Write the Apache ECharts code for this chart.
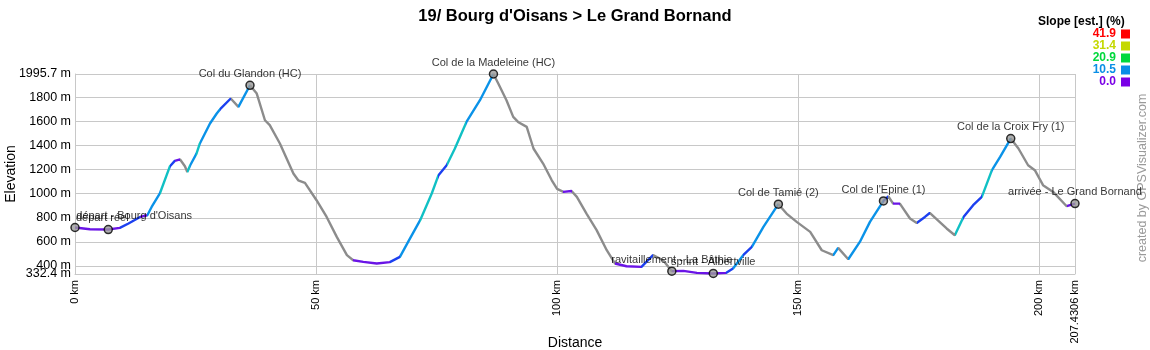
<!DOCTYPE html>
<html><head><meta charset="utf-8">
<script src="https://cdn.jsdelivr.net/npm/echarts@6/dist/echarts.min.js"></script>
<style>html,body{margin:0;padding:0;background:#fff}#c{width:1150px;height:350px}</style>
</head><body><div id="c"></div>
<script>
const titleText = "19/ Bourg d'Oisans > Le Grand Bornand";
const distKm = [
  0, 3.1, 6.9, 9.3, 11.1, 13.5, 15.0, 15.9, 17.6, 19.7,
  20.7, 21.8, 22.8, 23.3, 23.9, 25.2, 25.9, 28.0, 29.4, 30.1,
  32.3, 33.9, 36.3, 37.7, 39.4, 40.4, 42.5, 43.9, 45.3, 46.3,
  47.7, 50.1, 52.2, 54.3, 56.4, 57.7, 59.8, 62.6, 65.3, 67.4,
  69.1, 71.6, 74.0, 75.4, 77.1, 78.8, 81.2, 84.0, 86.8, 87.8,
  89.5, 90.9, 91.9, 93.7, 95.1, 97.1, 98.9, 100.0, 101.3, 103.0,
  104.1, 106.1, 108.2, 110.3, 112.0, 114.4, 117.5, 119.9, 122.0, 123.8,
  126.2, 129.0, 132.4, 135.1, 136.5, 138.6, 140.4, 142.8, 145.9, 147.6,
  149.7, 152.5, 154.9, 157.3, 158.3, 160.4, 162.8, 164.9, 167.7, 168.7,
  169.7, 171.1, 173.2, 174.6, 176.3, 177.3, 180.8, 182.5, 184.3, 186.3,
  188.1, 190.2, 191.9, 194.1, 195.7, 197.7, 199.1, 200.8, 202.9, 205.7,
  207.4306
];
const elevM = [
  719, 705, 702, 716, 752, 807, 821, 890, 1002, 1229,
  1273, 1285, 1229, 1181, 1237, 1334, 1418, 1584, 1667, 1703,
  1792, 1722, 1902, 1833, 1611, 1570, 1418, 1293, 1168, 1112,
  1090, 946, 807, 641, 489, 447, 433, 420, 431, 475,
  599, 780, 1002, 1154, 1237, 1376, 1597, 1778, 1995.7, 1917,
  1778, 1639, 1597, 1556, 1376, 1251, 1112, 1040, 1015, 1023,
  974, 835, 697, 530, 420, 397, 392, 489, 447, 356,
  358, 342, 337, 342, 378, 489, 558, 724, 913, 835,
  766, 683, 530, 489, 550, 455, 599, 766, 940, 979,
  918, 918, 794, 757, 807, 840, 711, 655, 807, 905,
  974, 1196, 1306, 1459, 1376, 1237, 1196, 1071, 1015, 896,
  918
];
const wpNames = ["départ réel", "départ - Bourg d'Oisans", "Col du Glandon (HC)", "Col de la Madeleine (HC)",
  "ravitaillement - La Bâthie", "sprint - Albertville", "Col de Tamié (2)", "Col de l'Epine (1)",
  "Col de la Croix Fry (1)", "arrivée - Le Grand Bornand"];
const wpKm = [0, 6.9, 36.3, 86.8, 123.8, 132.4, 145.9, 167.7, 194.1, 207.4306];
const wpElev = [719, 702, 1902, 1995.7, 356, 337, 913, 940, 1459, 918];
const xTicks = [0, 50, 100, 150, 200, 207.4306];
const yTicks = [400, 600, 800, 1000, 1200, 1400, 1600, 1800, 1995.7];
const yMinTick = [332.4];
const slopeLegendValues = ['41.9', '31.4', '20.9', '10.5', '0.0'];
const slopeLegendColors = ['#ff0000', '#c4d800', '#00d83c', '#0a8ee6', '#7a00e6'];

const FONT = '"Liberation Sans", Arial, sans-serif';

function slopeColor(s) {
  if (s < -1.5) return '#8c8c8c';
  if (s < 2) return '#6a14e6';
  if (s < 5) return '#1c40f0';
  if (s < 8) return '#0a92e8';
  return '#10c0c4';
}
const pieces = [];
for (let i = 0; i < distKm.length - 1; i++) {
  const s = (elevM[i + 1] - elevM[i]) / ((distKm[i + 1] - distKm[i]) * 1000) * 100;
  const p = { gte: distKm[i], color: slopeColor(s) };
  if (i < distKm.length - 2) p.lt = distKm[i + 1]; else p.lte = distKm[i + 1];
  pieces.push(p);
}

const wpData = wpNames.map((n, i) => {
  const d = { value: [wpKm[i], wpElev[i], n] };
  if (i === 0) d.label = { align: 'left', offset: [1, 2] };
  if (i === 1) d.label = { align: 'left', offset: [-32, -2] };
  return d;
});

const graphics = [];
graphics.push({ type: 'text', x: 1038, y: 16, style: { text: 'Slope [est.] (%)', font: 'bold 12px ' + FONT, fill: '#000' } });
const rowY = [34, 46, 58, 70, 82];
slopeLegendValues.forEach((v, i) => {
  graphics.push({ type: 'text', x: 1116, y: rowY[i], style: { text: v, font: 'bold 12px ' + FONT, fill: slopeLegendColors[i], textAlign: 'right', textVerticalAlign: 'middle' } });
  graphics.push({ type: 'rect', shape: { x: 1121, y: rowY[i] - 4.5, width: 9, height: 9 }, style: { fill: slopeLegendColors[i] } });
});
graphics.push({ type: 'text', x: 1143, y: 178, rotation: Math.PI / 2, style: { text: 'created by GPSVisualizer.com', font: '12.5px ' + FONT, fill: '#9a9a9a', textAlign: 'center', textVerticalAlign: 'middle' } });

const yLabelStyle = { margin: 4, fontSize: 12.5, fontFamily: FONT, color: '#000', showMinLabel: true, showMaxLabel: true, hideOverlap: false, formatter: v => v + ' m' };

const chart = echarts.init(document.getElementById('c'));
chart.setOption({
  animation: false,
  backgroundColor: '#fff',
  title: { text: titleText, left: 'center', top: 3, textStyle: { fontSize: 16.5, fontWeight: 'bold', fontFamily: FONT, color: '#000' } },
  grid: { left: 75, right: 75, top: 74, bottom: 76, containLabel: false, outerBoundsMode: 'none' },
  graphic: graphics,
  visualMap: { type: 'piecewise', show: false, dimension: 0, seriesIndex: 0, pieces: pieces, outOfRange: { color: '#8c8c8c' } },
  xAxis: {
    type: 'value', min: 0, max: 207.4306,
    name: 'Distance', nameLocation: 'middle', nameGap: 62, nameMoveOverlap: false,
    nameTextStyle: { fontSize: 14, fontFamily: FONT, color: '#000' },
    axisLine: { show: true, lineStyle: { color: '#c8c8c8' } },
    axisTick: { show: false, customValues: xTicks },
    axisLabel: { customValues: xTicks, rotate: 90, margin: 6, fontSize: 11, fontFamily: FONT, color: '#000',
      showMinLabel: true, showMaxLabel: true, hideOverlap: false,
      formatter: v => v + ' km' },
    splitLine: { show: true, lineStyle: { color: '#c8c8c8', width: 1 } }
  },
  yAxis: [{
    type: 'value', min: 332.4, max: 1995.7,
    name: 'Elevation', nameLocation: 'middle', nameGap: 57, nameRotate: 90, nameMoveOverlap: false,
    nameTextStyle: { fontSize: 14, fontFamily: FONT, color: '#000' },
    axisLine: { show: true, lineStyle: { color: '#c8c8c8' } },
    axisTick: { show: false, customValues: yTicks },
    axisLabel: Object.assign({ customValues: yTicks }, yLabelStyle),
    splitLine: { show: true, lineStyle: { color: '#c8c8c8', width: 1 } }
  }, {
    type: 'value', min: 332.4, max: 1995.7, position: 'left',
    axisLine: { show: false },
    axisTick: { show: false, customValues: yMinTick },
    axisLabel: Object.assign({ customValues: yMinTick }, yLabelStyle),
    splitLine: { show: false }
  }],
  series: [
    {
      type: 'line', data: distKm.map((k, i) => [k, elevM[i]]),
      showSymbol: false, symbol: 'none', lineStyle: { width: 2.4 }, z: 2
    },
    {
      type: 'scatter', data: wpData, symbol: 'circle', symbolSize: 8, z: 3,
      itemStyle: { color: '#9a9a9a', borderColor: '#000', borderWidth: 1.5 },
      label: { show: true, position: 'top', distance: 1, fontSize: 11, fontFamily: FONT, color: '#000',
        formatter: p => p.data.value[2] }
    }
  ]
});
</script></body></html>
